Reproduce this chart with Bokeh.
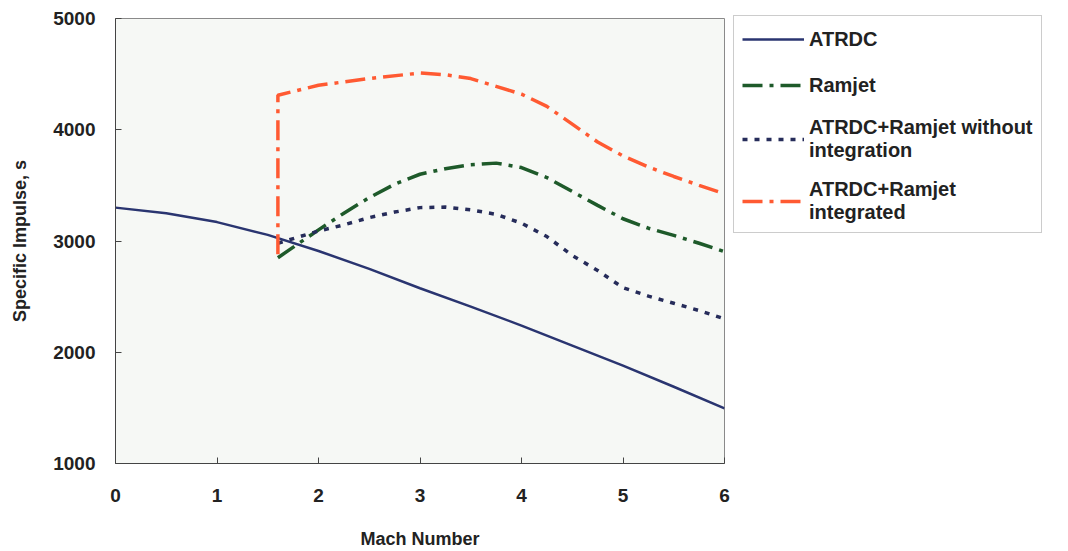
from bokeh.plotting import figure
from bokeh.models import Legend, LegendItem, Range1d, FixedTicker
from bokeh.embed import file_html
from bokeh.resources import INLINE

# --- data ---
mach_atrdc = [0, 0.5, 1, 1.5, 2, 2.5, 3, 3.5, 4, 4.5, 5, 5.5, 6]
isp_atrdc = [3300, 3250, 3170, 3055, 2910, 2750, 2575, 2410, 2240, 2060, 1880, 1690, 1495]

mach_ramjet = [1.6, 2, 2.25, 2.5, 2.75, 3, 3.25, 3.5, 3.75, 4, 4.25, 4.5, 4.75, 5, 5.25, 5.5, 5.75, 6]
isp_ramjet = [2850, 3100, 3250, 3390, 3510, 3600, 3650, 3685, 3700, 3660, 3570, 3445, 3320, 3200, 3115, 3050, 2980, 2905]

mach_combo = [1.6, 2, 2.25, 2.5, 2.75, 3, 3.25, 3.5, 3.75, 4, 4.25, 4.5, 4.75, 5, 5.25, 5.5, 5.75, 6]
isp_combo = [2980, 3090, 3145, 3210, 3260, 3300, 3305, 3280, 3240, 3160, 3040, 2870, 2735, 2580, 2505, 2440, 2375, 2300]

mach_integ = [1.6, 1.6, 2, 2.5, 3, 3.25, 3.5, 3.75, 4, 4.25, 4.5, 4.75, 5, 5.25, 5.5, 5.75, 6]
isp_integ = [2880, 4310, 4400, 4460, 4510, 4495, 4460, 4390, 4320, 4210, 4050, 3890, 3765, 3665, 3580, 3500, 3425]

x_ticks = [0, 1, 2, 3, 4, 5, 6]
y_ticks = [1000, 2000, 3000, 4000, 5000]

labels = ["ATRDC", "Ramjet", "ATRDC+Ramjet without\nintegration", "ATRDC+Ramjet\nintegrated"]

FONT = "Liberation Sans"

p = figure(frame_width=609, frame_height=445,
           x_range=Range1d(0, 6), y_range=Range1d(1000, 5000),
           output_backend="svg", toolbar_location=None,
           min_border_left=115, min_border_top=18, min_border_bottom=88,
           min_border_right=0)

p.background_fill_color = "#f6f8f5"
p.border_fill_color = "white"
p.outline_line_color = "#8a8a8a"
p.outline_line_width = 1
p.grid.visible = False

r1 = p.line(mach_atrdc, isp_atrdc, line_color="#2a3570", line_width=2.5)
r2 = p.line(mach_ramjet, isp_ramjet, line_color="#1e5a2a", line_width=3.5, line_dash="20 7 4 7")
r3 = p.line(mach_combo, isp_combo, line_color="#262c5a", line_width=3.5, line_dash="5 7")
r4 = p.line(mach_integ, isp_integ, line_color="#ff5a32", line_width=3.5, line_dash="20 7 4 7")

for ax in (p.xaxis[0], p.yaxis[0]):
    ax.axis_line_color = "#444444"
    ax.major_tick_line_color = "#444444"
    ax.major_tick_in = 6
    ax.major_tick_out = 0
    ax.minor_tick_line_color = None
    ax.major_label_text_font = FONT
    ax.major_label_text_font_style = "bold"
    ax.major_label_text_font_size = "19px"
    ax.major_label_text_color = "#222222"
    ax.axis_label_text_font = FONT
    ax.axis_label_text_font_style = "bold"
    ax.axis_label_text_font_size = "18px"
    ax.axis_label_text_color = "#222222"

p.xaxis[0].ticker = FixedTicker(ticks=x_ticks)
p.yaxis[0].ticker = FixedTicker(ticks=y_ticks)
p.xaxis[0].axis_label = "Mach Number"
p.yaxis[0].axis_label = "Specific Impulse, s"
p.xaxis[0].major_label_standoff = 25
p.xaxis[0].axis_label_standoff = 24
p.yaxis[0].major_label_standoff = 20
p.yaxis[0].axis_label_standoff = 20

legend = Legend(items=[LegendItem(label=labels[0], renderers=[r1]),
                       LegendItem(label=labels[1], renderers=[r2]),
                       LegendItem(label=labels[2], renderers=[r3]),
                       LegendItem(label=labels[3], renderers=[r4])],
                location=(9, 230))
legend.label_text_font = FONT
legend.label_text_font_style = "bold"
legend.label_text_font_size = "20px"
legend.label_text_color = "#222222"
legend.glyph_width = 62
legend.glyph_height = 20
legend.label_standoff = 5
legend.label_height = 30
legend.spacing = 16
legend.padding = 8
legend.margin = 0
legend.border_line_color = "#999999"
legend.border_line_width = 1
legend.background_fill_color = "white"
legend.background_fill_alpha = 1
p.add_layout(legend, "right")

open("out.html", "w").write(file_html(p, INLINE))
